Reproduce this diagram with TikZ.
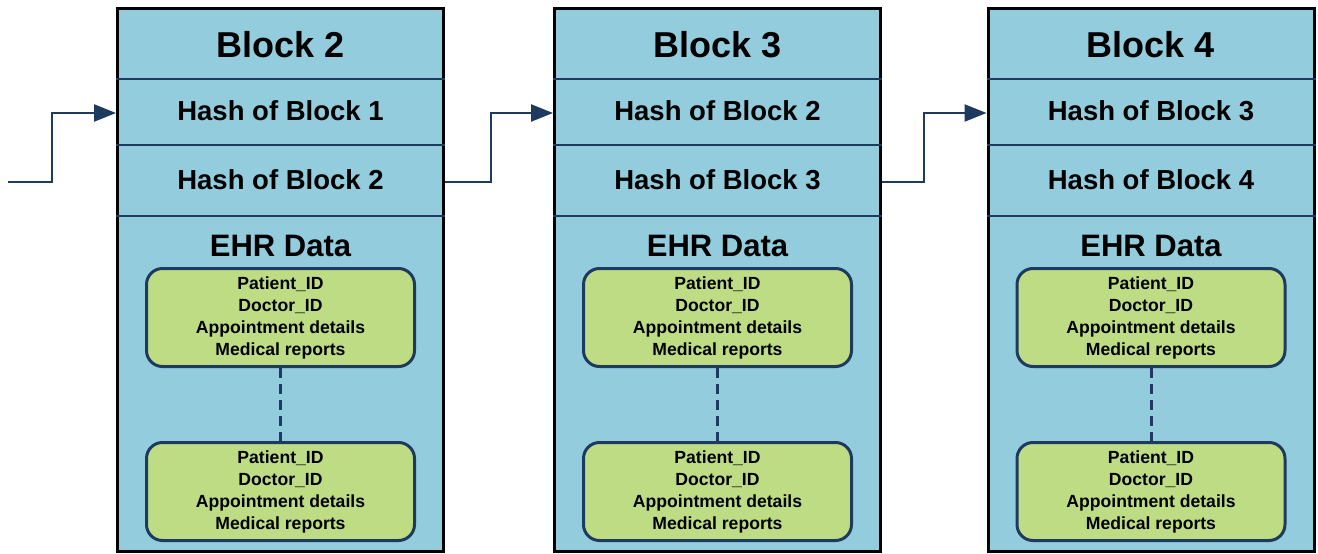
\documentclass[tikz,border=0pt]{standalone}
\usepackage{fontspec}
\setmainfont{Liberation Sans}
\usetikzlibrary{arrows.meta,calc}
\definecolor{blockfill}{HTML}{93CDDD}
\definecolor{recfill}{HTML}{BEDC84}
\definecolor{navy}{HTML}{1F3A5F}
\tikzset{
  blockbox/.style={draw=black, line width=3pt, fill=blockfill,
    minimum width=326pt, minimum height=543pt, inner sep=0pt},
  divider/.style={draw=navy, line width=2pt},
  titletext/.style={font=\fontsize{36}{42}\selectfont\bfseries, inner sep=0pt},
  hashtext/.style={font=\fontsize{27.5}{32}\selectfont\bfseries, inner sep=0pt},
  ehrtext/.style={font=\fontsize{31}{36}\selectfont\bfseries, inner sep=0pt},
  record/.style={draw=navy, line width=3pt, fill=recfill, rounded corners=16pt,
    minimum width=268pt, minimum height=98pt, inner sep=0pt, align=center,
    font=\fontsize{17.6}{22}\selectfont\bfseries},
  recordlink/.style={draw=navy, line width=3pt, dash pattern=on 10pt off 6pt},
  chain/.style={draw=navy, line width=2.5pt,
    -{Triangle[length=22pt,width=17pt]}},
}
\begin{document}
\begin{tikzpicture}[x=1pt,y=-1pt]
  \useasboundingbox (0,0) rectangle (1318,554);
  % one block of the chain: number / centre x
  \foreach \n/\cx in {2/280.5, 3/717.5, 4/1151} {
    \pgfmathtruncatemacro{\prev}{\n-1}
    \node[blockbox] (blk\n) at (\cx,279.5) {};
    \draw[divider] (blk\n.west |- 0,79)  -- (blk\n.east |- 0,79);
    \draw[divider] (blk\n.west |- 0,145) -- (blk\n.east |- 0,145);
    \draw[divider] (blk\n.west |- 0,216) -- (blk\n.east |- 0,216);
    \node[titletext] (title\n) at (\cx,45)  {Block \n};
    \node[hashtext]  (prev\n)  at (\cx,111) {Hash of Block \prev};
    \node[hashtext]  (own\n)   at (\cx,180) {Hash of Block \n};
    \node[ehrtext]   (ehr\n)   at (\cx,246) {EHR Data};
    \node[record] (reca\n) at (\cx,317.5)
      {Patient\_ID\\Doctor\_ID\\Appointment details\\Medical reports};
    \node[record] (recb\n) at (\cx,491.5)
      {Patient\_ID\\Doctor\_ID\\Appointment details\\Medical reports};
    \draw[recordlink] (reca\n.south) -- (recb\n.north);
  }
  % links between consecutive blocks
  \coordinate (start) at (8,182);
  \draw[chain] (start) -- ++(44,0) |- (blk2.west |- 0,113);
  \draw[chain] (blk2.east |- 0,182) -- ++(46,0) |- (blk3.west |- 0,113);
  \draw[chain] (blk3.east |- 0,182) -- ++(42,0) |- (blk4.west |- 0,113);
\end{tikzpicture}
\end{document}
